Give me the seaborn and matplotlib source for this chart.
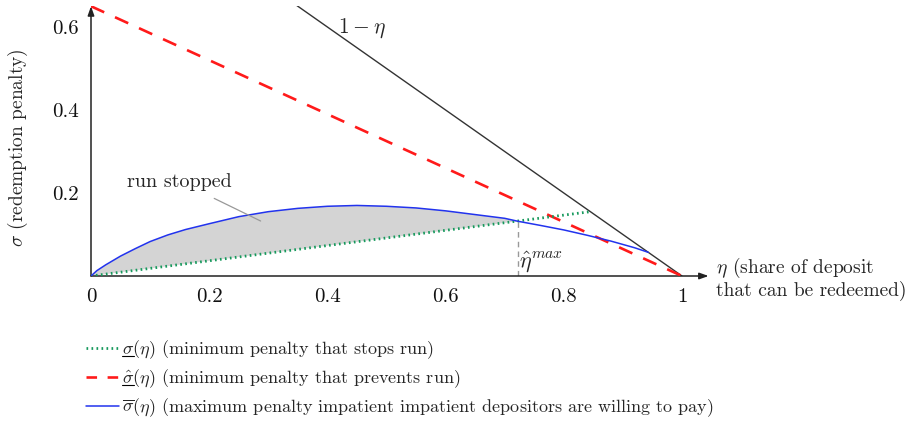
import numpy as np
import pandas as pd
import matplotlib
matplotlib.use("Agg")
import matplotlib.pyplot as plt
from matplotlib.lines import Line2D
import seaborn as sns

# ---------------- data ----------------
eta_blue = [0.0, 0.01, 0.025, 0.05, 0.075, 0.1, 0.13, 0.16, 0.2, 0.25, 0.3,
            0.35, 0.4, 0.45, 0.5, 0.55, 0.6, 0.65, 0.7, 0.722, 0.76, 0.8,
            0.84, 0.88, 0.92, 0.943]
sigma_blue = [0.0, 0.013, 0.027, 0.048, 0.066, 0.083, 0.099, 0.112, 0.126, 0.143, 0.155,
              0.163, 0.168, 0.170, 0.168, 0.164, 0.157, 0.148, 0.139, 0.132, 0.122, 0.111,
              0.098, 0.084, 0.068, 0.057]
eta_green = [0.0, 0.845]
sigma_green = [0.0, 0.155]
eta_red = [0.0, 1.0]
sigma_red = [0.65, 0.0]
eta_black = [0.0, 1.0]
sigma_black = [1.0, 0.0]
eta_hat_max = 0.722
sigma_at_eta_hat_max = 0.132

x_ticks = [0, 0.2, 0.4, 0.6, 0.8, 1]
x_tick_labels = ["0", "0.2", "0.4", "0.6", "0.8", "1"]
y_ticks = [0.2, 0.4, 0.6]
y_tick_labels = ["0.2", "0.4", "0.6"]

legend_symbols = [r"$\sigma$", r"$\hat{\sigma}$", None]
legend_labels = [
    r"$\sigma(\eta)$ (minimum penalty that stops run)",
    r"$\hat{\sigma}(\eta)$ (minimum penalty that prevents run)",
    r"$\overline{\sigma}(\eta)$ (maximum penalty impatient impatient depositors are willing to pay)",
]

# ---------------- style ----------------
sns.set_theme(style="white")
plt.rcParams["font.family"] = ["cmr10", "DejaVu Serif"]
plt.rcParams["mathtext.fontset"] = "cm"
plt.rcParams["axes.formatter.use_mathtext"] = True
plt.rcParams["axes.unicode_minus"] = False

GREEN = "#16995c"
RED = "#ff1a1a"
BLUE = "#2233ee"

W, H = 909, 423
fig = plt.figure(figsize=(W / 100, H / 100), dpi=100)
# axes placement in pixels: x0=91, 591 px per unit; y0=276 from top, 415 px per unit
xmax, ymax = 1.045, 0.65
left = 91 / W
width = xmax * 591 / W
bottom = (H - 276) / H
height = ymax * 415 / H
ax = fig.add_axes([left, bottom, width, height])
ax.set_xlim(0, xmax)
ax.set_ylim(0, ymax)

df_blue = pd.DataFrame({"eta": eta_blue, "sigma": sigma_blue})
df_green = pd.DataFrame({"eta": eta_green, "sigma": sigma_green})
df_red = pd.DataFrame({"eta": eta_red, "sigma": sigma_red})
df_black = pd.DataFrame({"eta": eta_black, "sigma": sigma_black})

# shaded region between blue curve and green line up to eta_hat_max
k = eta_blue.index(eta_hat_max)
poly_x = eta_blue[: k + 1] + [0.0]
poly_y = sigma_blue[: k + 1] + [0.0]
ax.fill(poly_x, poly_y, color="#d4d4d4", lw=0, zorder=1)

sns.lineplot(data=df_black, x="eta", y="sigma", ax=ax, color="#333333", lw=1.0,
             sort=False, zorder=3, estimator=None)
sns.lineplot(data=df_red, x="eta", y="sigma", ax=ax, color=RED, lw=1.9,
             sort=False, zorder=4, estimator=None)
ax.lines[-1].set_dashes([5.5, 4.5])
sns.lineplot(data=df_green, x="eta", y="sigma", ax=ax, color=GREEN, lw=2.0,
             sort=False, zorder=4, estimator=None)
ax.lines[-1].set_dashes([0.6, 1.2])
sns.lineplot(data=df_blue, x="eta", y="sigma", ax=ax, color=BLUE, lw=1.1,
             sort=False, zorder=5, estimator=None)

# eta hat max marker line
ax.plot([eta_hat_max, eta_hat_max], [0, sigma_at_eta_hat_max], color="#999999",
        lw=1.0, dashes=[4, 3], zorder=2)
ax.text(eta_hat_max + 0.002, 0.035, r"$\hat{\eta}^{max}$", fontsize=16,
        ha="left", va="center")

# "run stopped" pin
ax.plot([0.2085, 0.287], [0.187, 0.1325], color="#999999", lw=0.9, zorder=6)
ax.text(0.149, 0.2265, "run stopped", fontsize=14.5, ha="center", va="center")

# 1 - eta label
ax.text(0.459, 0.598, r"$1-\eta$", fontsize=15.5, ha="center", va="center")

# axes: arrows instead of spines
for s in ax.spines.values():
    s.set_visible(False)
ax.annotate("", xy=(1.0, 0), xycoords="axes fraction", xytext=(0, 0),
            arrowprops=dict(arrowstyle="-|>,head_length=0.45,head_width=0.16",
                            color="#222222", lw=1.1, shrinkA=0, shrinkB=0),
            annotation_clip=False)
ax.annotate("", xy=(0, 1.0), xycoords="axes fraction", xytext=(0, 0),
            arrowprops=dict(arrowstyle="-|>,head_length=0.45,head_width=0.16",
                            color="#222222", lw=1.1, shrinkA=0, shrinkB=0),
            annotation_clip=False)

ax.set_xticks(x_ticks)
ax.set_xticklabels(x_tick_labels)
ax.set_yticks(y_ticks)
ax.set_yticklabels(y_tick_labels)
ax.tick_params(axis="both", direction="inout", length=6, width=0.8,
               color="#aaaaaa", labelsize=15, labelcolor="#111111", pad=6)
ax.set_xlabel("")
ax.set_ylabel("")

fig.text(18 / W, 1 - 148 / H, r"$\sigma$ (redemption penalty)", rotation=90,
         fontsize=14, ha="center", va="center")
fig.text(716 / W, 1 - 267 / H, r"$\eta$ (share of deposit", fontsize=14,
         ha="left", va="center")
fig.text(716 / W, 1 - 291 / H, "that can be redeemed)", fontsize=14,
         ha="left", va="center")

# legend
handles = [
    Line2D([], [], color=GREEN, lw=2.0, dashes=[0.6, 1.2]),
    Line2D([], [], color=RED, lw=1.9, dashes=[4, 4]),
    Line2D([], [], color=BLUE, lw=1.1),
]
leg = fig.legend(handles, legend_labels, loc="upper left",
                 bbox_to_anchor=(86 / W, 1 - 338 / H), frameon=False, fontsize=13,
                 handlelength=1.8, handletextpad=0.18, labelspacing=0.36,
                 borderaxespad=0, borderpad=0)

# underline the sigma symbols in the first two legend entries
fig.canvas.draw()
renderer = fig.canvas.get_renderer()
for txt, sym in zip(leg.get_texts(), legend_symbols):
    if sym is None:
        continue
    bb = txt.get_window_extent(renderer)
    prop = txt.get_fontproperties()
    _, _, d = renderer.get_text_width_height_descent(txt.get_text(), prop, ismath=True)
    sw, _, _ = renderer.get_text_width_height_descent(sym, prop, ismath=True)
    base = bb.y0 + d
    y = base - 2.0
    fig.add_artist(Line2D([(bb.x0 + 0.5) / W, (bb.x0 + sw) / W], [y / H, y / H],
                          transform=fig.transFigure, color="black", lw=0.8))

fig.savefig("out.png", dpi=100)
